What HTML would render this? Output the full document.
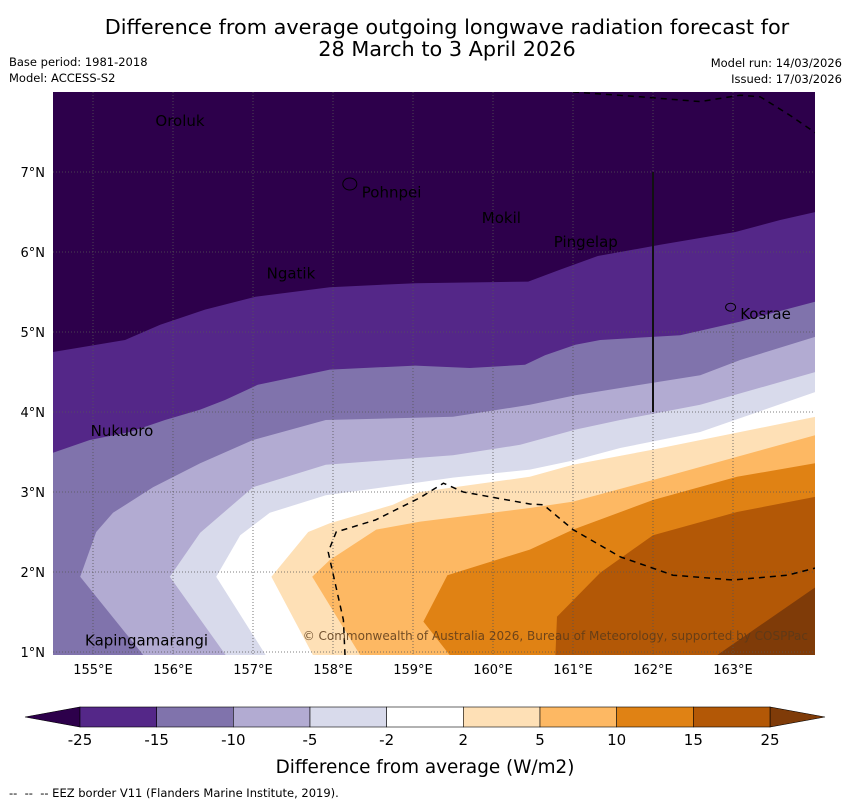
<!DOCTYPE html>
<html><head><meta charset="utf-8">
<style>
body{margin:0;background:#fff;}
svg{display:block;font-family:"DejaVu Sans","Liberation Sans",sans-serif;}
</style></head>
<body>
<svg id="chart" width="850" height="804" viewBox="0 0 850 804">
<text x="447" y="34" font-size="20.8" text-anchor="middle">Difference from average outgoing longwave radiation forecast for</text>
<text x="447" y="56" font-size="20.8" text-anchor="middle">28 March to 3 April 2026</text>
<text x="9" y="66" font-size="11.5">Base period: 1981-2018</text>
<text x="9" y="82" font-size="11.5">Model: ACCESS-S2</text>
<text x="842" y="67" font-size="11.5" text-anchor="end">Model run: 14/03/2026</text>
<text x="842" y="83" font-size="11.5" text-anchor="end">Issued: 17/03/2026</text>
<g id="map"></g>
<g id="cbar"></g>
<text x="425" y="773" font-size="18.4" text-anchor="middle">Difference from average (W/m2)</text>
<text x="9" y="797" font-size="11.5" xml:space="preserve">--  --  -- EEZ border V11 (Flanders Marine Institute, 2019).</text>
</svg>
<script>
const NS="http://www.w3.org/2000/svg";
const lonMin=154.5, lonMax=164.025, latMin=0.9625, latMax=8;
const levelColors=["#2d004b","#542788","#8073ac","#b2abd2","#d8daeb","#ffffff","#fee0b6","#fdb863","#e08214","#b35806","#7f3b08"];
const levelLabels=["-25","-15","-10","-5","-2","2","5","10","15","25"];
const b1=[[154.5,4.75],[155.4,4.9],[155.84,5.09],[156.4,5.28],[157.03,5.44],[157.96,5.56],[159.03,5.61],[160.44,5.63],[160.84,5.78],[161.31,5.95],[162.09,6.09],[163.03,6.25],[163.59,6.4],[164.03,6.5]];
const b2=[[154.5,3.49],[154.96,3.65],[155.46,3.75],[155.9,3.9],[156.34,4.03],[156.65,4.15],[157.06,4.34],[157.96,4.53],[159.03,4.58],[159.71,4.55],[160.4,4.59],[160.65,4.71],[161.03,4.84],[161.34,4.9],[162.34,4.96],[163.09,5.13],[164.03,5.38]];
const b3=[[155.63,0.96],[154.84,1.94],[155.04,2.5],[155.25,2.74],[155.75,3.06],[156.34,3.36],[157.0,3.65],[157.91,3.9],[159.5,3.94],[160.46,4.09],[161.03,4.21],[161.59,4.3],[162.59,4.46],[163.09,4.65],[164.03,4.94]];
const b4=[[156.66,0.96],[155.96,1.94],[156.34,2.49],[157.0,3.06],[157.91,3.34],[159.5,3.46],[160.34,3.59],[161.03,3.78],[161.59,3.9],[162.59,4.09],[164.03,4.5]];
const b5=[[157.16,0.96],[156.54,1.94],[156.84,2.46],[157.21,2.74],[157.91,2.96],[159.0,3.11],[159.5,3.18],[160.46,3.28],[161.03,3.4],[161.59,3.55],[162.59,3.75],[164.03,4.25]];
const b6=[[157.75,0.96],[157.23,1.94],[157.69,2.5],[157.96,2.61],[158.75,2.84],[159.09,3.0],[160.46,3.19],[161.0,3.34],[162.0,3.53],[164.03,3.94]];
const b7=[[158.34,0.96],[157.74,1.94],[157.96,2.15],[158.54,2.53],[159.09,2.63],[160.46,2.8],[161.0,2.88],[162.0,3.15],[164.03,3.71]];
const b8=[[159.46,0.96],[159.13,1.38],[159.43,1.96],[160.46,2.28],[161.0,2.53],[162.0,2.9],[163.05,3.19],[164.03,3.36]];
const b9=[[160.78,0.96],[160.8,1.44],[161.34,1.99],[162.0,2.46],[163.05,2.75],[164.03,2.94]];
const b10=[[162.8,0.96],[164.03,1.81]];
const eezSouth=[[158.15,0.96],[158.13,1.4],[157.94,2.25],[158.04,2.5],[158.53,2.65],[159.09,2.93],[159.38,3.11],[159.63,3.0],[160.46,2.85],[160.63,2.84],[161.0,2.53],[161.59,2.19],[162.25,1.96],[163.0,1.9],[163.68,1.96],[164.03,2.05]];
const eezNorth=[[161.0,8],[161.84,7.94],[162.59,7.88],[163.09,7.96],[163.34,7.94],[163.71,7.71],[164.03,7.49]];
const lonTicks=[155,156,157,158,159,160,161,162,163];
const latTicks=[1,2,3,4,5,6,7];
const islands=[["Oroluk",155.78,7.575],["Pohnpei",158.36,6.68],["Mokil",159.86,6.36],["Pingelap",160.76,6.06],["Ngatik",157.17,5.67],["Kosrae",163.09,5.16],["Nukuoro",154.97,3.7],["Kapingamarangi",154.9,1.08]];

const X0=53,X1=815,Y0=92,Y1=655;
const xs=lon=>X0+(lon-lonMin)/(lonMax-lonMin)*(X1-X0);
const ys=lat=>Y1-(lat-latMin)/(latMax-latMin)*(Y1-Y0);
function mk(tag,attrs,parent){const e=document.createElementNS(NS,tag);for(const k in attrs)e.setAttribute(k,attrs[k]);parent.appendChild(e);return e;}
const map=document.getElementById('map');
const defs=mk('defs',{},map);
const cp=mk('clipPath',{id:'clip'},defs);
mk('rect',{x:X0,y:Y0,width:X1-X0,height:Y1-Y0},cp);
const g=mk('g',{'clip-path':'url(#clip)'},map);
const bg=mk('rect',{x:X0,y:Y0,width:X1-X0,height:Y1-Y0,fill:levelColors[0]},g);


const bounds=[b1,b2,b3,b4,b5,b6,b7,b8,b9,b10];
bounds.forEach((b,i)=>{
  let pts=b.map(p=>xs(p[0])+','+ys(p[1]));
  pts.push(xs(lonMax)+5+','+(Y1+5));
  if(b[0][0]<=lonMin+0.01) pts.push((X0-5)+','+(Y1+5));
  const p=mk('polygon',{points:pts.join(' '),fill:levelColors[i+1]},g);
  
  
});
lonTicks.forEach(l=>{const ln=mk('line',{x1:xs(l),x2:xs(l),y1:Y0,y2:Y1,stroke:'#555','stroke-width':0.8,'stroke-dasharray':'1,2'},g);

});
latTicks.forEach(l=>{const ln=mk('line',{x1:X0,x2:X1,y1:ys(l),y2:ys(l),stroke:'#555','stroke-width':0.8,'stroke-dasharray':'1,2'},g);

});
[eezSouth,eezNorth].forEach((e,i)=>{const pl=mk('polyline',{points:e.map(p=>xs(p[0])+','+ys(p[1])).join(' '),fill:'none',stroke:'#000','stroke-width':1.5,'stroke-dasharray':'6,5'},g);

});
const vl=mk('line',{x1:xs(162),x2:xs(162),y1:ys(7),y2:ys(4),stroke:'#111','stroke-width':2},g);


const pi=mk('ellipse',{cx:xs(158.21),cy:ys(6.85),rx:7,ry:6,fill:'none',stroke:'#000','stroke-width':1},g);


const ki=mk('ellipse',{cx:xs(162.97),cy:ys(5.31),rx:5,ry:4,fill:'none',stroke:'#000','stroke-width':1},g);


islands.forEach(s=>{const t=mk('text',{x:xs(s[1]),y:ys(s[2]),'font-size':15,fill:'#000'},g);t.textContent=s[0];

});
const cr=mk('text',{x:808,y:640,'font-size':12,fill:'#5a3a1a','text-anchor':'end','fill-opacity':0.85},g);
cr.textContent='© Commonwealth of Australia 2026, Bureau of Meteorology, supported by COSPPac';


lonTicks.forEach(l=>{const t=mk('text',{x:xs(l),y:674,'font-size':13,'text-anchor':'middle'},map);t.textContent=l+'°E';

});
latTicks.forEach(l=>{const t=mk('text',{x:45,y:ys(l)+5,'font-size':13,'text-anchor':'end'},map);t.textContent=l+'°N';

});
const cb=document.getElementById('cbar');
const cx0=80,cx1=770,cy0=707,cy1=727,n=levelLabels.length-1,w=(cx1-cx0)/n;
const lt=mk('polygon',{points:`${cx0},${cy0} ${cx0},${cy1} 25,${(cy0+cy1)/2}`,fill:levelColors[0],stroke:'#000','stroke-width':0.6},cb);


const rt=mk('polygon',{points:`${cx1},${cy0} ${cx1},${cy1} 825,${(cy0+cy1)/2}`,fill:levelColors[10],stroke:'#000','stroke-width':0.6},cb);


for(let i=0;i<n;i++){const r=mk('rect',{x:cx0+i*w,y:cy0,width:w,height:cy1-cy0,fill:levelColors[i+1],stroke:'#000','stroke-width':0.6},cb);

}
levelLabels.forEach((l,i)=>{const t=mk('text',{x:cx0+i*w,y:745,'font-size':15,'text-anchor':'middle'},cb);t.textContent=l;

});
</script>
</body></html>
